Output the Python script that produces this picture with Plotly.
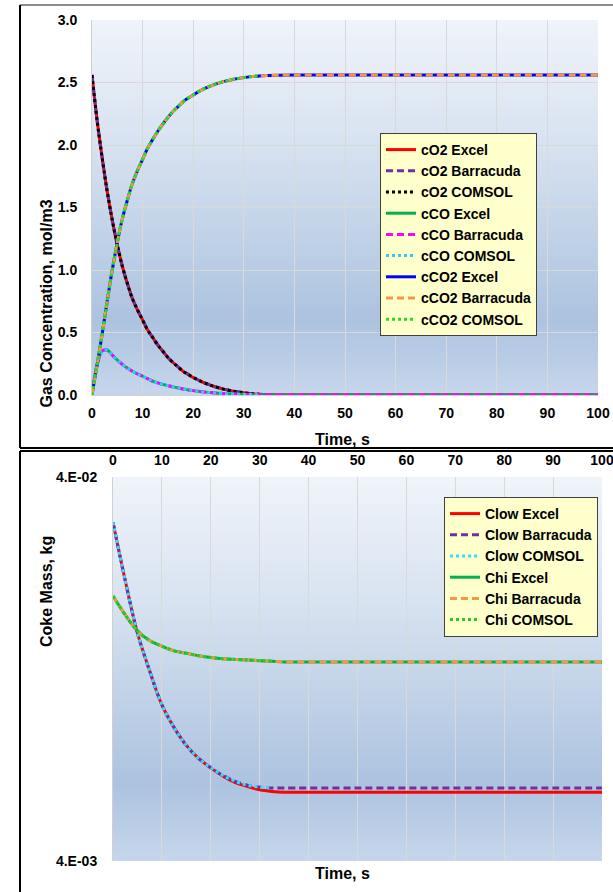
import plotly.graph_objects as go

W, H = 613, 892

# ---------------- gas concentrations (mol/m3) ----------------
t_gas = [0, 1, 2, 3, 4, 5, 6, 7, 8, 9, 10, 11, 12, 13, 14, 15, 16, 17, 18, 19,
         20, 21, 22, 23, 24, 25, 26, 27, 28, 29, 30, 31, 32, 33, 34, 35,
         40, 50, 60, 70, 80, 90, 100]
c_o2 = [2.56, 2.20, 1.90, 1.63, 1.40, 1.20, 1.03, 0.89, 0.77, 0.68, 0.60,
        0.52, 0.46, 0.40, 0.35, 0.30, 0.26, 0.225, 0.19, 0.165, 0.14, 0.12,
        0.10, 0.085, 0.07, 0.058, 0.047, 0.038, 0.03, 0.024, 0.018, 0.013,
        0.009, 0.006, 0.004, 0.002, 0, 0, 0, 0, 0, 0, 0]
c_co = [0, 0.24, 0.35, 0.36, 0.32, 0.28, 0.245, 0.215, 0.19, 0.168, 0.15,
        0.13, 0.11, 0.097, 0.085, 0.075, 0.065, 0.056, 0.048, 0.041, 0.035,
        0.030, 0.025, 0.021, 0.018, 0.015, 0.012, 0.010, 0.008, 0.006, 0.005,
        0.004, 0.003, 0.002, 0.0015, 0.001, 0, 0, 0, 0, 0, 0, 0]
c_co2 = [0, 0.24, 0.485, 0.75, 1.00, 1.22, 1.41, 1.56, 1.695, 1.796, 1.885,
         1.975, 2.045, 2.11, 2.168, 2.22, 2.268, 2.307, 2.346, 2.375, 2.40,
         2.425, 2.447, 2.465, 2.481, 2.495, 2.507, 2.517, 2.526, 2.533, 2.539,
         2.545, 2.549, 2.553, 2.555, 2.557, 2.56, 2.56, 2.56, 2.56, 2.56,
         2.56, 2.56]
comsol_end = 33  # COMSOL run length, s

# ---------------- coke mass (kg) ----------------
t_coke = [0, 2.5, 5, 7.5, 10, 12.5, 15, 17.5, 20, 22.5, 25, 27.5, 30, 32.5,
          35, 40, 50, 60, 70, 80, 90, 100]
clow_excel = [0.0305, 0.0215, 0.0157, 0.0125, 0.0102, 0.0089, 0.0080, 0.0074,
              0.00699, 0.00665, 0.0064, 0.00625, 0.00613, 0.00607, 0.00604,
              0.00604, 0.00604, 0.00604, 0.00604, 0.00604, 0.00604, 0.00604]
clow_barracuda = [0.0305, 0.0215, 0.0157, 0.0125, 0.0102, 0.0089, 0.0080,
                  0.0074, 0.0070, 0.00668, 0.00645, 0.0063, 0.00623, 0.0062,
                  0.0062, 0.0062, 0.0062, 0.0062, 0.0062, 0.0062, 0.0062, 0.0062]
chi = [0.0196, 0.0175, 0.0159, 0.0150, 0.0145, 0.0141, 0.0139, 0.0137,
       0.01355, 0.01345, 0.0134, 0.01335, 0.0133, 0.01325, 0.0132, 0.0132,
       0.0132, 0.0132, 0.0132, 0.0132, 0.0132, 0.0132]

time_ticks = [0, 10, 20, 30, 40, 50, 60, 70, 80, 90, 100]
coke_ticks = [0.004, 0.04]
coke_tick_text = ["4.E-03", "4.E-02"]

FONT = "Liberation Sans, Arial, sans-serif"


def upto(t, y, tend):
    n = sum(1 for v in t if v <= tend)
    return t[:n], y[:n]


def px_x(p):
    return p / W


def px_y(p):
    return 1 - p / H


fig = go.Figure()

DASH = "7px,4px"
DOT = "3px,3px"


def add(x, y, name, color, dash, xa, ya, legend):
    fig.add_trace(go.Scatter(
        x=x, y=y, name=name, mode="lines", xaxis=xa, yaxis=ya, legend=legend,
        line=dict(color=color, width=3, dash=dash, shape="spline", smoothing=1.0),
        hoverinfo="x+y+name"))


# gas concentration panel
add(t_gas, c_o2, "cO2 Excel", "#FF0000", "solid", "x", "y", "legend")
add(t_gas, c_o2, "cO2 Barracuda", "#7030A0", DASH, "x", "y", "legend")
add(*upto(t_gas, c_o2, comsol_end), "cO2 COMSOL", "#000000", DOT, "x", "y", "legend")
add(t_gas, c_co, "cCO Excel", "#00B050", "solid", "x", "y", "legend")
add(t_gas, c_co, "cCO Barracuda", "#FF00FF", DASH, "x", "y", "legend")
add(*upto(t_gas, c_co, comsol_end), "cCO COMSOL", "#2ECCFA", DOT, "x", "y", "legend")
add(t_gas, c_co2, "cCO2 Excel", "#0000FF", "solid", "x", "y", "legend")
add(t_gas, c_co2, "cCO2 Barracuda", "#F79646", DASH, "x", "y", "legend")
add(*upto(t_gas, c_co2, comsol_end), "cCO2 COMSOL", "#22DD22", DOT, "x", "y", "legend")

# coke mass panel
add(t_coke, clow_excel, "Clow Excel", "#FF0000", "solid", "x2", "y2", "legend2")
add(t_coke, clow_barracuda, "Clow Barracuda", "#7030A0", DASH, "x2", "y2", "legend2")
add(*upto(t_coke, clow_barracuda, comsol_end), "Clow COMSOL", "#33DDFF", DOT, "x2", "y2", "legend2")
add(t_coke, chi, "Chi Excel", "#00B050", "solid", "x2", "y2", "legend2")
add(t_coke, chi, "Chi Barracuda", "#F79646", DASH, "x2", "y2", "legend2")
add(*upto(t_coke, chi, comsol_end), "Chi COMSOL", "#22CC22", DOT, "x2", "y2", "legend2")

tick_font = dict(family=FONT, size=14, color="#000000", weight="bold")
legend_font = dict(family=FONT, size=14, color="#000000", weight="bold")

# plot areas in pixels
P1 = dict(l=92, r=598, t=20, b=395)
P2 = dict(l=113, r=602, t=477, b=861)

fig.update_layout(
    width=W, height=H,
    margin=dict(l=0, r=0, t=0, b=0, autoexpand=False),
    paper_bgcolor="#FFFFFF",
    plot_bgcolor="rgba(0,0,0,0)",
    showlegend=True,
    xaxis=dict(domain=[px_x(P1["l"]), px_x(P1["r"])], anchor="y",
               range=[0, 100], tickvals=time_ticks, showgrid=True,
               gridcolor="#D9D9D9", gridwidth=1, zeroline=False,
               showline=True, linecolor="#D0D0D0", linewidth=1,
               ticks="outside", ticklen=5, tickcolor="rgba(0,0,0,0)",
               tickfont=tick_font, automargin=False,
               ticklabeloverflow="allow"),
    yaxis=dict(domain=[px_y(P1["b"]), px_y(P1["t"])], anchor="x",
               range=[0, 3], dtick=0.5, tickformat=".1f", showgrid=True,
               gridcolor="#D9D9D9", gridwidth=1, zeroline=False,
               showline=True, linecolor="#D0D0D0", linewidth=1,
               ticks="outside", ticklen=11, tickcolor="rgba(0,0,0,0)",
               tickfont=tick_font, automargin=False),
    xaxis2=dict(domain=[px_x(P2["l"]), px_x(P2["r"])], anchor="y2", side="top",
                range=[0, 100], tickvals=time_ticks, showgrid=True,
                gridcolor="#D9D9D9", gridwidth=1, zeroline=False,
                showline=False,
                ticks="outside", ticklen=5, tickcolor="rgba(0,0,0,0)",
                tickfont=tick_font, automargin=False,
                ticklabeloverflow="allow"),
    yaxis2=dict(domain=[px_y(P2["b"]), px_y(P2["t"])], anchor="x2",
                type="log", range=[-2.39794, -1.39794],
                tickvals=coke_ticks, ticktext=coke_tick_text, showgrid=False,
                zeroline=False, showline=True, linecolor="#D0D0D0", linewidth=1,
                ticks="outside", ticklen=12, tickcolor="rgba(0,0,0,0)",
                tickfont=tick_font, automargin=False),
    legend=dict(x=px_x(380), y=px_y(133), xanchor="left", yanchor="top",
                bgcolor="#FFFFCC", bordercolor="#404040", borderwidth=1,
                font=legend_font, itemwidth=30, tracegroupgap=0),
    legend2=dict(x=px_x(444), y=px_y(497), xanchor="left", yanchor="top",
                 bgcolor="#FFFFCC", bordercolor="#404040", borderwidth=1,
                 font=legend_font, itemwidth=30, tracegroupgap=0),
)


# vertical colour gradient behind each plot area
def lerp(c1, c2, f):
    return tuple(round(a + (b - a) * f) for a, b in zip(c1, c2))


def grad_color(f, stops):
    for (f0, c0), (f1, c1) in zip(stops, stops[1:]):
        if f0 <= f <= f1:
            return lerp(c0, c1, (f - f0) / (f1 - f0))
    return stops[-1][1]


GRAD = [(0.0, (240, 244, 250)), (0.35, (214, 225, 240)),
        (0.8, (172, 195, 224)), (1.0, (199, 214, 235))]

shapes = []
N = 70
for xref, yref in (("x domain", "y domain"), ("x2 domain", "y2 domain")):
    for i in range(N):
        f_top = 1 - i / N
        f_bot = 1 - (i + 1) / N
        c = grad_color((i + 0.5) / N, GRAD)
        shapes.append(dict(type="rect", xref=xref, yref=yref, x0=0, x1=1,
                           y0=max(f_bot - 0.002, 0), y1=f_top, layer="below",
                           fillcolor="rgb(%d,%d,%d)" % c, line=dict(width=0)))


def pline(x0, y0, x1, y1, color, width):
    shapes.append(dict(type="line", xref="paper", yref="paper",
                       x0=px_x(x0), y0=px_y(y0), x1=px_x(x1), y1=px_y(y1),
                       line=dict(color=color, width=width)))


# chart frames
pline(20, 5, 620, 5, "#8C8C8C", 2)
pline(20, 5, 20, 448, "#000000", 2)
pline(20, 448, 620, 448, "#000000", 2)
pline(20, 451, 620, 451, "#000000", 2)
pline(20, 451, 20, 900, "#000000", 2)

# legend drop shadows
for (x0, y0, x1, y1) in ((383, 136, 536, 331), (447, 500, 591, 631)):
    shapes.append(dict(type="rect", xref="paper", yref="paper",
                       x0=px_x(x0), x1=px_x(x1), y0=px_y(y1), y1=px_y(y0),
                       fillcolor="rgba(90,90,90,0.55)", line=dict(width=0),
                       layer="above"))

fig.update_layout(shapes=shapes)

title_font = dict(family=FONT, size=16, color="#000000", weight="bold")
fig.add_annotation(text="Time, s", xref="paper", yref="paper", x=px_x(342),
                   y=px_y(439), showarrow=False, font=title_font)
fig.add_annotation(text="Time, s", xref="paper", yref="paper", x=px_x(342),
                   y=px_y(884), showarrow=False, font=title_font)
fig.add_annotation(text="Gas Concentration, mol/m3", xref="paper", yref="paper",
                   x=px_x(35), y=px_y(198), textangle=-90, showarrow=False,
                   font=title_font)
fig.add_annotation(text="Coke Mass, kg", xref="paper", yref="paper",
                   x=px_x(36), y=px_y(649), textangle=-90, showarrow=False,
                   font=title_font)

fig.write_html("out.html")
